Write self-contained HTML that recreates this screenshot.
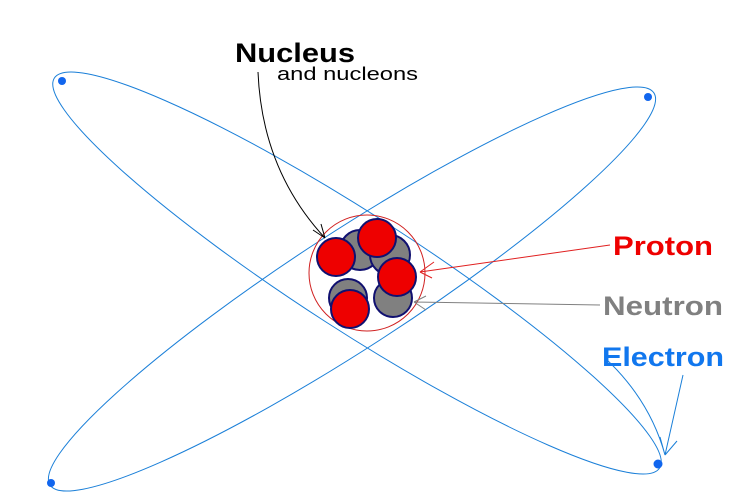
<!DOCTYPE html>
<html><head><style>html,body{margin:0;padding:0;background:#fff;width:750px;height:504px;overflow:hidden}svg{display:block}</style></head><body>
<svg width="750" height="504" xmlns="http://www.w3.org/2000/svg" style="font-family:'Liberation Sans',sans-serif">
<g fill="none" stroke="#1a7fd8" stroke-width="1">
<ellipse cx="357" cy="273" rx="360" ry="58" transform="rotate(32.8 357 273)"/>
<ellipse cx="352" cy="289" rx="360" ry="58" transform="rotate(-33 352 289)"/>
</g>
<g fill="#1166ee">
<circle cx="62" cy="81" r="4"/><circle cx="648" cy="97" r="4"/><circle cx="658" cy="464" r="4.5"/><circle cx="51" cy="483" r="4"/>
</g>
<circle cx="367" cy="273" r="58" fill="none" stroke="#d02020" stroke-width="1"/>
<g fill="#808080" stroke="#101070" stroke-width="2">
<circle cx="360" cy="250" r="20"/><circle cx="390" cy="255" r="20"/><circle cx="348" cy="298" r="19"/><circle cx="393" cy="298" r="19"/>
</g>
<g fill="#ee0000" stroke="#101070" stroke-width="2">
<circle cx="336" cy="257" r="19"/><circle cx="377" cy="238" r="19"/><circle cx="397" cy="277" r="19"/><circle cx="350" cy="309" r="19"/>
</g>
<g fill="none" stroke-width="1">
<path d="M258 72 Q262 170 325 238" stroke="#000"/>
<path d="M325 238 l-4 -14 M325 238 l-12 -8" stroke="#000"/>
<path d="M420 272 L610 245 M420 272 l14 -10 M420 272 l12 6" stroke="#e02020"/>
<path d="M414 302 L600 305 M414 302 l12 -6 M414 302 l12 8" stroke="#808080"/>
<path d="M683 375 L665 455 M665 455 l-5 -18 M665 455 l12 -14 M605 358 Q650 400 665 455" stroke="#1a7fd8"/>
</g>
<text x="235" y="62" font-size="27" font-weight="bold" fill="#000" textLength="120" lengthAdjust="spacingAndGlyphs">Nucleus</text>
<text x="277" y="80" font-size="18" fill="#000" textLength="141" lengthAdjust="spacingAndGlyphs">and nucleons</text>
<text x="613" y="255" font-size="27" font-weight="bold" fill="#ee0000" textLength="100" lengthAdjust="spacingAndGlyphs">Proton</text>
<text x="603" y="315" font-size="27" font-weight="bold" fill="#808080" textLength="120" lengthAdjust="spacingAndGlyphs">Neutron</text>
<text x="602" y="366" font-size="27" font-weight="bold" fill="#1177ee" textLength="122" lengthAdjust="spacingAndGlyphs">Electron</text>
</svg>
</body></html>
